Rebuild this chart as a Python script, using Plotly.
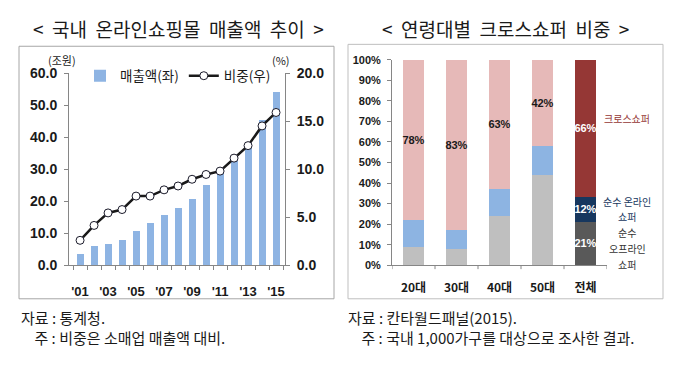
import plotly.graph_objects as go

# ---- Left chart data: 국내 온라인쇼핑몰 매출액 추이 ----
years = list(range(2001, 2016))
sales = [3.4, 6.0, 6.8, 7.8, 10.7, 13.2, 15.6, 18.0, 20.7, 25.2, 29.1, 32.7, 38.1, 45.3, 54.0]  # 조원
share = [2.6, 4.15, 5.45, 5.8, 7.2, 7.2, 7.85, 8.25, 8.95, 9.45, 9.8, 11.15, 12.45, 14.5, 15.9]  # %
year_ticks = [2001, 2003, 2005, 2007, 2009, 2011, 2013, 2015]
year_labels = ["'01", "'03", "'05", "'07", "'09", "'11", "'13", "'15"]

# ---- Right chart data: 연령대별 크로스쇼퍼 비중 ----
ages = ["20대", "30대", "40대", "50대", "전체"]
offline = [9, 8, 24, 44, 21]
online = [13, 9, 13, 14, 12]
cross = [78, 83, 63, 42, 66]
label_offline = [False, False, False, False, True]
label_online = [False, False, False, False, True]
label_cross = [True, True, True, True, True]

W, H = 680, 368
def px(x): return x / W
def py(y): return 1 - y / H

FONT_KR = "Noto Sans CJK KR"
FONT_NUM = "Liberation Sans"
NB = "\u00a0"

totals = [a + b + c for a, b, c in zip(offline, online, cross)]
def norm(vals):
    return [v / t * 100 for v, t in zip(vals, totals)]
def labels(vals, mask):
    return [f"{v}%" if m else "" for v, m in zip(vals, mask)]

fig = go.Figure()

fig.add_trace(go.Bar(
    x=years, y=sales, name="매출액(좌)", marker=dict(color="#8EB4E3", line=dict(width=0)),
    xaxis="x", yaxis="y",
))
fig.add_trace(go.Scatter(
    x=years, y=share, name="비중(우)", mode="lines+markers",
    line=dict(color="#1a1a1a", width=2.5),
    marker=dict(symbol="circle", size=8, color="white", line=dict(color="#1a1a2a", width=1)),
    xaxis="x", yaxis="y2",
))

age_colors_off = ["#BFBFBF"] * 4 + ["#595959"]
age_colors_on = ["#8DB4E2"] * 4 + ["#17375E"]
age_colors_cr = ["#E6B9B8"] * 4 + ["#953735"]
txt_colors = ["#1a1a1a"] * 4 + ["white"]

for vals, mask, cols in [(offline, label_offline, age_colors_off),
                         (online, label_online, age_colors_on),
                         (cross, label_cross, age_colors_cr)]:
    fig.add_trace(go.Bar(
        x=ages, y=norm(vals), text=labels(vals, mask),
        textposition="inside", insidetextanchor="middle", textangle=0,
        textfont=dict(family=FONT_NUM, size=11, color=txt_colors, weight="bold"),
        marker=dict(color=cols, line=dict(width=0)),
        xaxis="x3", yaxis="y3", showlegend=False, hoverinfo="skip",
    ))

axis_col = "#868686"
tickfont_l = dict(family=FONT_NUM, size=14, color="#1a1a1a", weight="bold")
tickfont_r = dict(family=FONT_NUM, size=11, color="#1a1a1a", weight="bold")

fig.update_layout(
    width=W, height=H, margin=dict(l=0, r=0, t=0, b=0),
    paper_bgcolor="white", plot_bgcolor="white",
    barmode="stack", bargap=0.5,
    uniformtext=dict(minsize=11, mode="show"),
    font=dict(family=FONT_KR, color="#1a1a1a"),
    xaxis=dict(
        domain=[px(69), px(285)], anchor="y", range=[2001 - 0.79, 2015 + 0.64],
        tickvals=year_ticks, ticktext=year_labels, ticks="", showgrid=False,
        showline=True, linecolor=axis_col, linewidth=1, zeroline=False,
        tickfont=dict(family=FONT_NUM, size=13, color="#1a1a1a", weight="bold"),
        ticklabelstandoff=14,
        minor=dict(ticks="outside", tick0=2000.5, dtick=1, ticklen=4, tickcolor=axis_col, showgrid=False),
    ),
    yaxis=dict(
        domain=[py(269), py(68)], anchor="x", range=[0, 60], dtick=10, tickformat=".1f",
        ticks="outside", ticklen=4, tickcolor=axis_col, showgrid=False, zeroline=False,
        showline=True, linecolor=axis_col, linewidth=1, tickfont=tickfont_l,
        ticklabelstandoff=4,
    ),
    yaxis2=dict(
        overlaying="y", side="right", anchor="x", range=[0, 20], dtick=5, tickformat=".1f",
        ticks="outside", ticklen=4, tickcolor=axis_col, showgrid=False, zeroline=False,
        showline=True, linecolor=axis_col, linewidth=1, tickfont=tickfont_l,
        ticklabelstandoff=4,
    ),
    xaxis3=dict(
        domain=[px(392), px(607)], anchor="y3", type="category", range=[-0.5, 4.5],
        showline=True, linecolor=axis_col, linewidth=1, showgrid=False, ticks="",
        tickfont=dict(family=FONT_KR, size=12, color="#1a1a1a", weight="bold"),
        ticklabelstandoff=11,
    ),
    yaxis3=dict(
        domain=[py(269), py(54)], anchor="x3", range=[0, 100], dtick=10, ticksuffix="%",
        ticks="outside", ticklen=4, tickcolor=axis_col, showgrid=False, zeroline=False,
        showline=True, linecolor=axis_col, linewidth=1, tickfont=tickfont_r,
        ticklabelstandoff=4,
    ),
    legend=dict(
        orientation="h", x=px(80), y=py(71), xanchor="left", yanchor="middle",
        font=dict(family=FONT_KR, size=13.5, color="#1a1a1a"),
        bgcolor="rgba(0,0,0,0)", itemwidth=30, traceorder="normal",
    ),
)

# category boundary ticks on right chart x-axis
for i in range(6):
    fig.add_shape(type="line", xref="x3", yref="paper", x0=i - 0.5, x1=i - 0.5,
                  y0=py(269), y1=py(273), line=dict(color=axis_col, width=1))

# panel frames
fig.add_shape(type="rect", xref="paper", yref="paper", x0=px(19), x1=px(334), y0=py(304), y1=py(40),
              line=dict(color="#A6A6A6", width=1))
fig.add_shape(type="rect", xref="paper", yref="paper", x0=px(348), x1=px(663), y0=py(304), y1=py(38),
              line=dict(color="#BFBFBF", width=1))

def ann(text, x, y, size, color="#1a1a1a", xanchor="center", weight="normal", yanchor="middle"):
    fig.add_annotation(text=text, x=px(x), y=py(y), xref="paper", yref="paper",
                       xanchor=xanchor, yanchor=yanchor, showarrow=False, align="left",
                       font=dict(family=FONT_KR, size=size, color=color, weight=weight))

ann(f"<{NB*2}국내{NB*2}온라인쇼핑몰{NB*2}매출액{NB*2}추이{NB*2}>", 178, 21, 19)
ann(f"<{NB*2}연령대별{NB*2}크로스쇼퍼{NB*2}비중{NB*2}>", 505, 21, 19)
ann("(조원)", 62, 54, 11)
ann("(%)", 281, 54, 11)

ann("크로스쇼퍼", 627, 116, 10, "#953735")
ann("순수 온라인", 627, 202, 10, "#17375E")
ann("쇼퍼", 627, 218, 10, "#17375E")
ann("순수", 627, 235, 10, "#333333")
ann("오프라인", 627, 251, 10, "#333333")
ann("쇼퍼", 627, 268, 10, "#333333")

ann(f"자료 : 통계청.<br>{NB*4}주 : 비중은 소매업 매출액 대비.", 19, 334, 15, xanchor="left")
ann(f"자료 : 칸타월드패널(2015).<br>{NB*4}주 : 국내 1,000가구를 대상으로 조사한 결과.", 346, 334, 15, xanchor="left")

fig.write_html("out.html", config={"displayModeBar": False},
               post_script="document.body.style.margin='0';document.body.style.overflow='hidden';")
